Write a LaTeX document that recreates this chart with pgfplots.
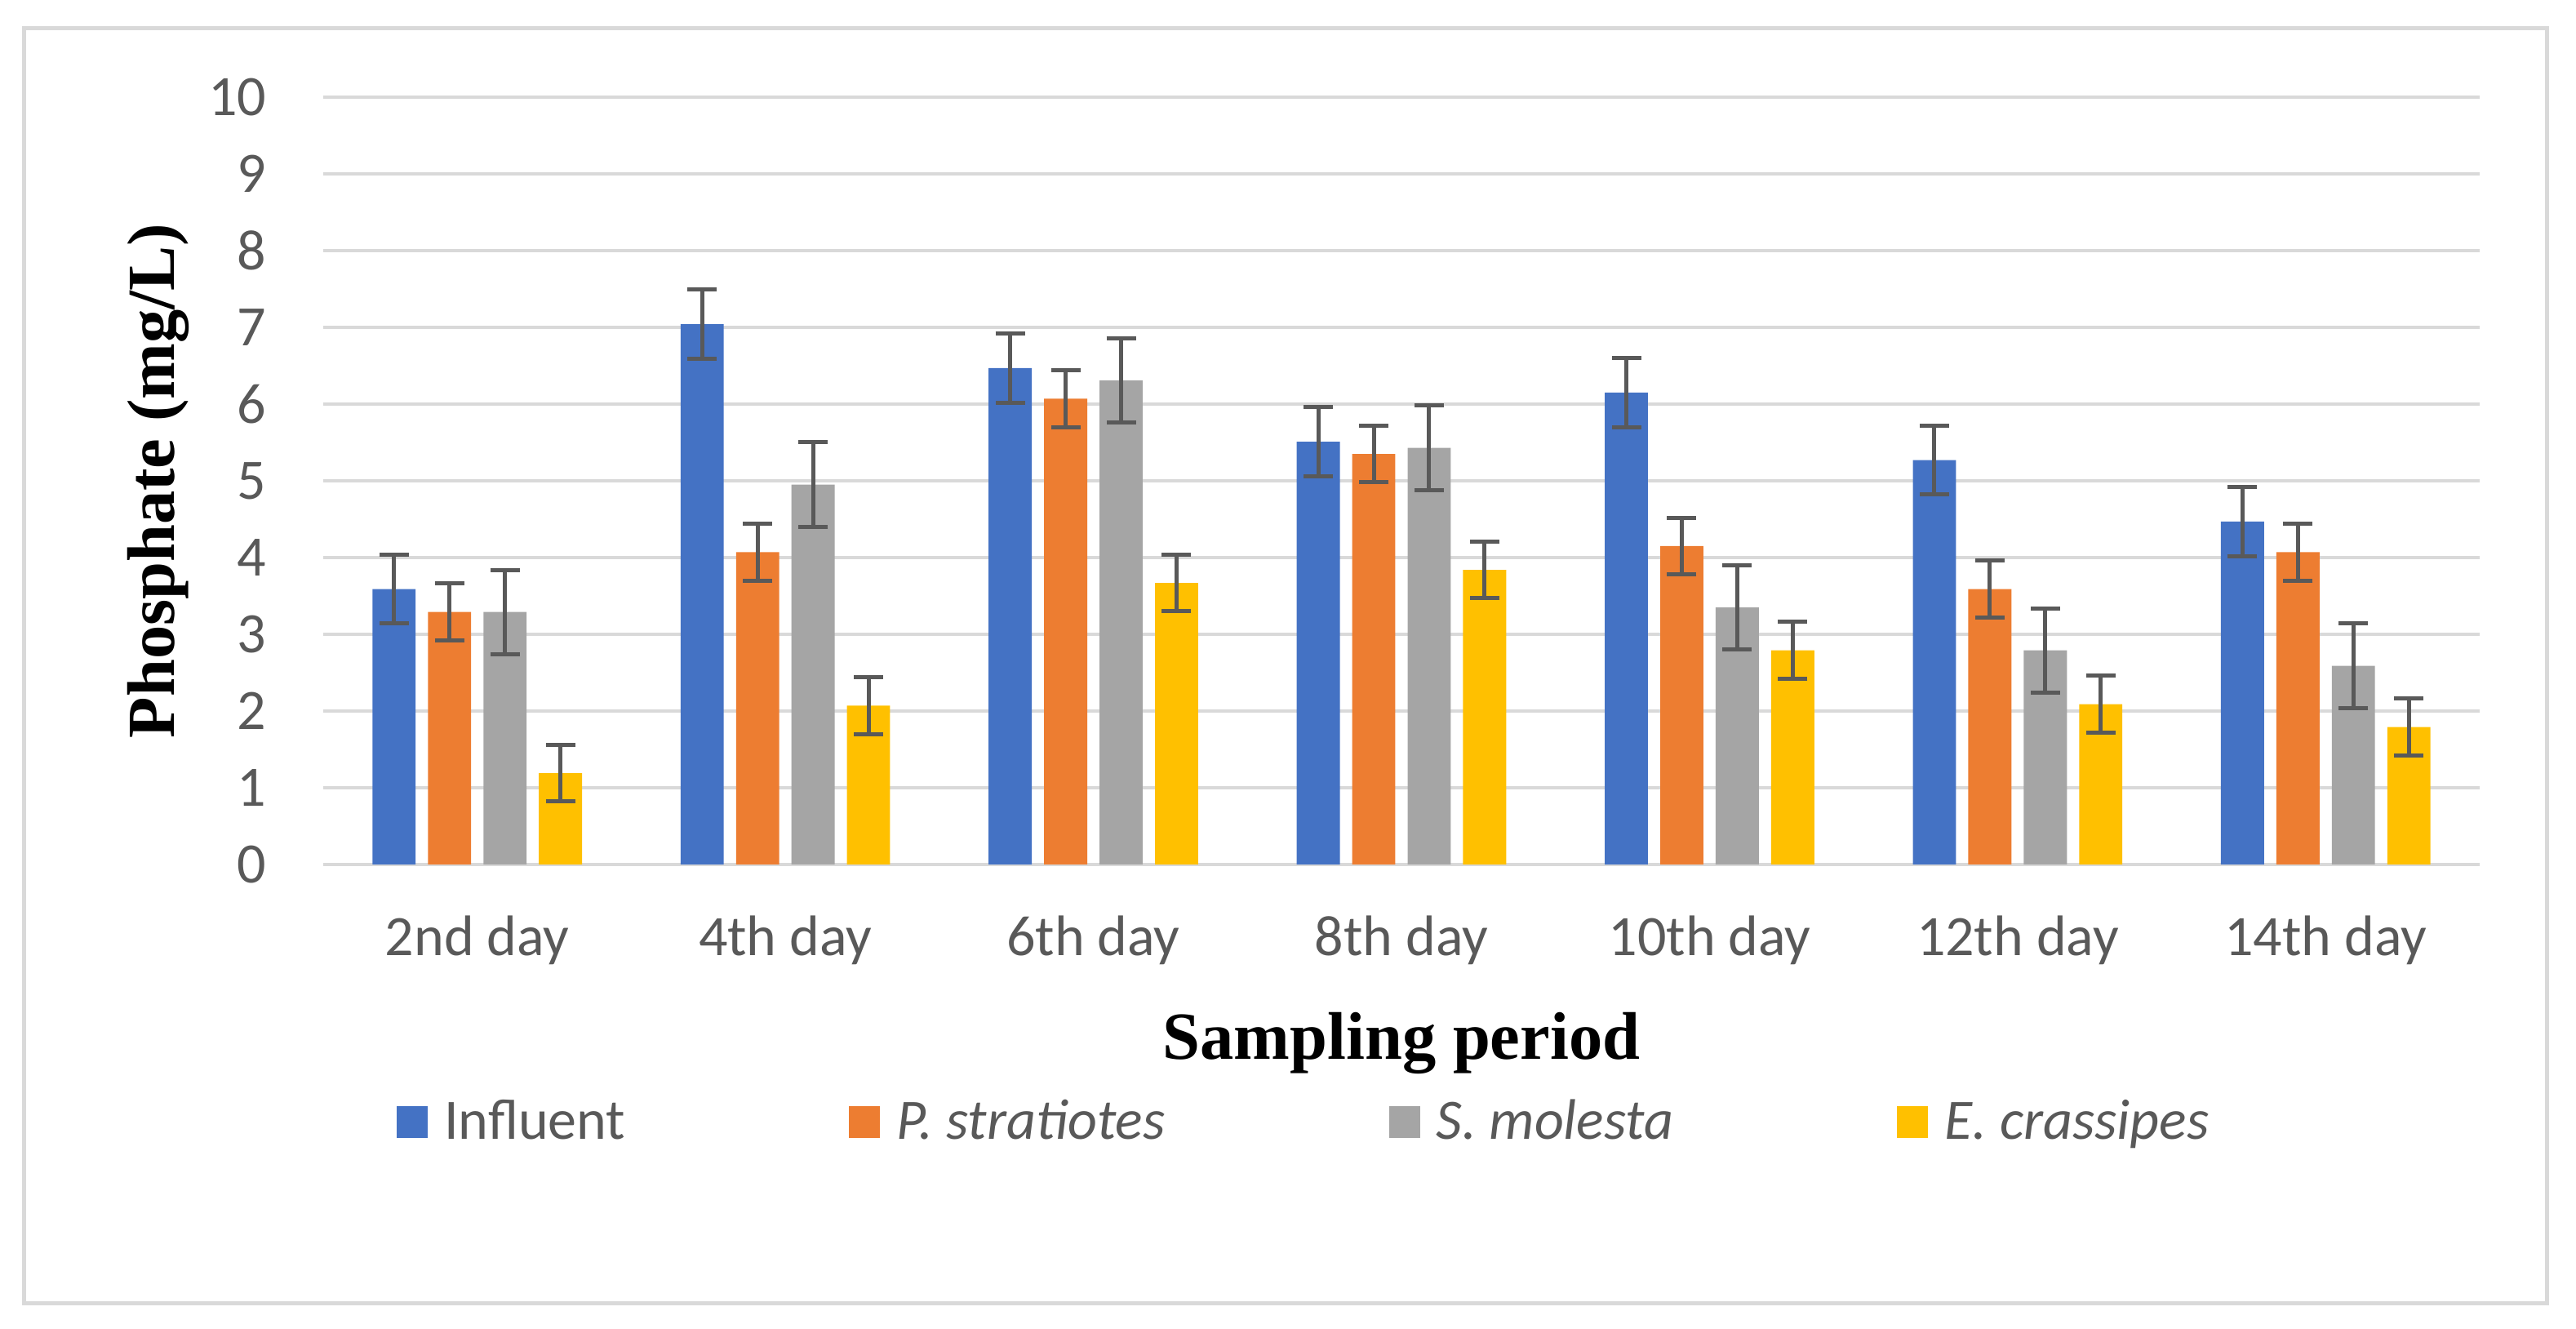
\documentclass[border=0pt]{standalone}
\usepackage{pgfplots}
\usepackage{pgfplotstable}
\pgfplotsset{compat=1.18}
\usepackage{fontspec}
\setmainfont{Carlito}
\newfontfamily\titlefont{Liberation Serif}

\definecolor{cInf}{HTML}{4472C4}
\definecolor{cPst}{HTML}{ED7D31}
\definecolor{cSmo}{HTML}{A5A5A5}
\definecolor{cEcr}{HTML}{FFC000}
\definecolor{errgray}{HTML}{595959}
\definecolor{txtgray}{HTML}{595959}
\definecolor{gridgray}{HTML}{D9D9D9}

% day index, mean phosphate (mg/L) per treatment, error per treatment
\pgfplotstableread{
x  inf  infe  pst  pste  smo  smoe  ecr  ecre
0  3.59 0.45  3.29 0.37  3.29 0.55  1.19 0.37
1  7.04 0.45  4.07 0.37  4.95 0.55  2.07 0.37
2  6.47 0.45  6.07 0.37  6.31 0.55  3.67 0.37
3  5.51 0.45  5.35 0.37  5.43 0.55  3.84 0.37
4  6.15 0.45  4.15 0.37  3.35 0.55  2.79 0.37
5  5.27 0.45  3.59 0.37  2.79 0.55  2.09 0.37
6  4.47 0.45  4.07 0.37  2.59 0.55  1.79 0.37
}\phos

\begin{document}
\begin{tikzpicture}
\useasboundingbox (-79.2pt,-113.8pt) rectangle (552pt,211.8pt);
\begin{axis}[
    at={(0,0)}, anchor=south west,
    width=528.4pt, height=188pt, scale only axis,
    ybar, bar width=0.14,
    xmin=-0.5, xmax=6.5,
    ymin=0, ymax=10,
    xtick={0,...,6},
    xticklabels={2nd day,4th day,6th day,8th day,10th day,12th day,14th day},
    ytick={0,...,10},
    /pgf/number format/assume math mode=true,
    axis line style={draw=none},
    major tick length=0pt,
    ymajorgrids,
    grid style={line width=0.9pt, gridgray},
    ticklabel style={font=\fontsize{14}{17}\selectfont, text=txtgray},
    xticklabel style={anchor=base, yshift=-22.4pt},
    yticklabel style={anchor=east, inner sep=0pt, xshift=-13.8pt},
    xlabel={Sampling period},
    ylabel={Phosphate (mg/L)},
    xlabel style={font=\titlefont\bfseries\fontsize{16.5}{20}\selectfont,
        at={(axis description cs:0.5,0)}, anchor=base, yshift=-47.8pt},
    ylabel style={font=\titlefont\bfseries\fontsize{16.5}{20}\selectfont,
        at={(axis description cs:-0.0689,0.5)}, anchor=base},
    legend columns=4,
    legend style={at={(axis description cs:0.0337,-0.336)}, anchor=west,
        draw=none, fill=none, inner sep=0pt,
        font=\fontsize{14}{17}\selectfont, text=txtgray,
        /tikz/every even column/.append style={column sep=52.8pt}},
    legend cell align=left,
    legend image code/.code={\fill[#1] (0pt,-3.9pt) rectangle (7.6pt,3.9pt);
        \path (9.6pt,0pt);},
    error bars/error bar style={line width=1pt, errgray},
    error bars/error mark options={rotate=90, mark size=3.6pt, line width=1pt, errgray},
]
\addplot[fill=cInf, draw=none, bar shift=-0.27,
    error bars/.cd, y dir=both, y explicit]
    table[x=x, y=inf, y error=infe] {\phos};
\addlegendentry{Influent}
\addplot[fill=cPst, draw=none, bar shift=-0.09,
    error bars/.cd, y dir=both, y explicit]
    table[x=x, y=pst, y error=pste] {\phos};
\addlegendentry{\textit{P. stratiotes}}
\addplot[fill=cSmo, draw=none, bar shift=0.09,
    error bars/.cd, y dir=both, y explicit]
    table[x=x, y=smo, y error=smoe] {\phos};
\addlegendentry{\textit{S. molesta}}
\addplot[fill=cEcr, draw=none, bar shift=0.27,
    error bars/.cd, y dir=both, y explicit]
    table[x=x, y=ecr, y error=ecre] {\phos};
\addlegendentry{\textit{E. crassipes}}
\end{axis}
\draw[gridgray, line width=1pt] (-73.2pt,-107.6pt) rectangle (544.8pt,204.8pt);
\end{tikzpicture}
\end{document}
